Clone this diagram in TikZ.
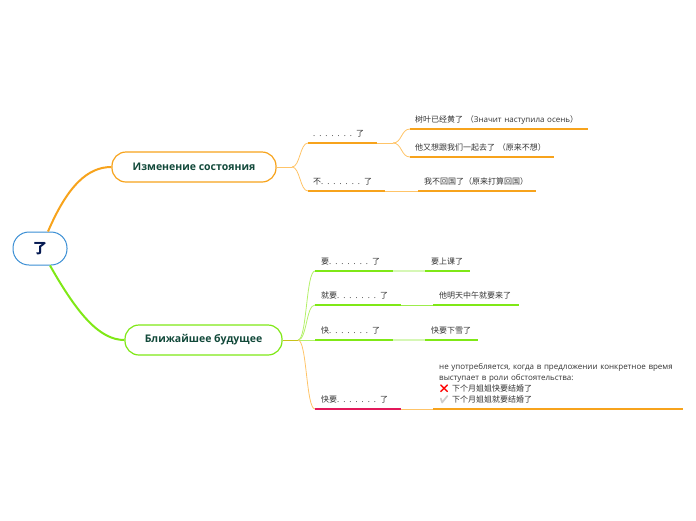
\documentclass[tikz,border=0pt]{standalone}
\usepackage{fontspec}
\setmainfont{Open Sans}
\newfontfamily\cjk{Noto Sans CJK SC}
\newfontfamily\emo{Noto Emoji}
\definecolor{orgA}{HTML}{F7A31C}
\definecolor{orgL}{HTML}{FFC468}
\definecolor{grnA}{HTML}{7FE816}
\definecolor{grnL}{HTML}{B4F06A}
\definecolor{grnP}{HTML}{D6F7B6}
\definecolor{grnM}{HTML}{9CEC4C}
\definecolor{crim}{HTML}{E2185A}
\definecolor{blu}{HTML}{3A8ED4}
\definecolor{ttl}{HTML}{12493A}
\definecolor{olv}{HTML}{C8C21A}
\definecolor{txt}{HTML}{333333}
\newcommand\dts{{\spaceskip=4.6pt\relax. . . . . . . }}
\tikzset{
  rootbox/.style={draw=blu, line width=1pt, fill=white, rounded corners=16pt,
    minimum width=54pt, minimum height=33pt, inner sep=0pt,
    font=\cjk\bfseries\fontsize{14}{16}\selectfont, text=ttl!60!blue!60!black},
  mainbox/.style={draw=#1, line width=1.2pt, fill=white, rounded corners=14pt,
    minimum height=30pt, inner sep=0pt,
    font=\bfseries\fontsize{10.5}{12}\selectfont, text=ttl},
  leaf/.style={anchor=south west, inner xsep=#1, inner ysep=4.5pt, align=left,
    font=\fontsize{8}{11.3}\selectfont, text=txt},
  leaf/.default=5pt,
  sl/.style={text depth=2pt},
  uline/.style={line width=2pt, draw=#1},
  thin/.style={line width=0.8pt, draw=#1},
}
\begin{document}
\begin{tikzpicture}[x=1pt,y=-1pt]
\useasboundingbox (0,0) rectangle (696,520);
% main nodes
\node[rootbox] (root) at (40,248.5) {了};
\node[mainbox=orgA, minimum width=164pt] (n1) at (194,167) {Изменение состояния};
\node[mainbox=grnA, minimum width=157pt] (n2) at (203.5,340) {Ближайшее будущее};
% root connectors
\draw[orgA, line width=2pt] ([xshift=8pt]root.north) .. controls (68,185) and (88,167) .. (n1.west);
\draw[grnA, line width=2pt] ([xshift=10pt]root.south) .. controls (78,315) and (100,340) .. (n2.west);
% first group
\node[leaf, sl, text width=59pt] (a1) at (308,143) {\dts{\cjk 了}};
\node[leaf, sl, text width=67pt] (a2) at (308,191) {{\cjk 不}\dts{\cjk 了}};
\node[leaf, sl, text width=168pt] (b1) at (410,129) {{\cjk 树叶已经黄了 （}Значит наступила осень{\cjk ）}};
\node[leaf, sl, text width=134pt] (b2) at (410,157) {{\cjk 他又想跟我们一起去了 （原来不想）}};
\node[leaf=6pt, sl, text width=106pt] (b3) at (418,191) {{\cjk 我不回国了（原来打算回国）}};
\coordinate (f1) at (292,167);
\coordinate (f3) at (393,143);
\draw[thin=orgL] (n1.east) -- (f1);
\draw[thin=orgL] (f1) .. controls (300,167) and (300,143) .. (a1.south west);
\draw[thin=orgL] (f1) .. controls (300,167) and (300,191) .. (a2.south west);
\draw[thin=orgL] (a1.south east) -- (f3);
\draw[thin=orgL] (f3) .. controls (402,143) and (401,129) .. (b1.south west);
\draw[thin=orgL] (f3) .. controls (402,143) and (401,157) .. (b2.south west);
\draw[thin=orgL] (a2.south east) -- (b3.south west);
\foreach \n in {a1,a2,b1,b2,b3} \draw[uline=orgA] (\n.south west) -- (\n.south east);
% second group
\node[leaf=6pt, sl, text width=66pt] (c1) at (315,271) {{\cjk 要}\dts{\cjk 了}};
\node[leaf=6pt, sl, text width=74pt] (c2) at (315,305) {{\cjk 就要}\dts{\cjk 了}};
\node[leaf=6pt, sl, text width=66pt] (c3) at (315,340) {{\cjk 快}\dts{\cjk 了}};
\node[leaf=6pt, sl, text width=74pt] (c4) at (315,409) {{\cjk 快要}\dts{\cjk 了}};
\node[leaf=6pt, sl, text width=33pt] (d1) at (425,271) {{\cjk 要上课了}};
\node[leaf=6pt, sl, text width=74pt] (d2) at (433,305) {{\cjk 他明天中午就要来了}};
\node[leaf=6pt, sl, text width=41pt] (d3) at (425,340) {{\cjk 快要下雪了}};
\node[leaf=6pt, text width=238pt] (d4) at (433,409) {не употребляется, когда в предложении конкретное время\\
выступает в роли обстоятельства:\\
{\emo\color{red}❌} {\cjk 下个月姐姐快要结婚了}\\
{\emo\color{black!20}✔} {\cjk 下个月姐姐就要结婚了}};
\coordinate (f2) at (298,340);
\draw[line width=1pt, olv] (n2.east) -- (f2);
\draw[thin=grnL] (f2) .. controls (307,340) and (306,271) .. (c1.south west);
\draw[thin=grnL] (f2) .. controls (307,340) and (306,305) .. (c2.south west);
\draw[thin=grnL] (f2) -- (c3.south west);
\draw[thin=orgL] (f2) .. controls (307,340) and (306,409) .. (c4.south west);
\draw[line width=2pt, grnP] (c1.south east) -- (d1.south west);
\draw[thin=grnM] (c2.south east) -- (d2.south west);
\draw[line width=2pt, grnP] (c3.south east) -- (d3.south west);
\draw[thin=orgL] (c4.south east) -- (d4.south west);
\foreach \n in {c1,c2,c3,d1,d2,d3} \draw[uline=grnA] (\n.south west) -- (\n.south east);
\draw[uline=crim] (c4.south west) -- (c4.south east);
\draw[uline=orgA] (d4.south west) -- (d4.south east);
\end{tikzpicture}
\end{document}
